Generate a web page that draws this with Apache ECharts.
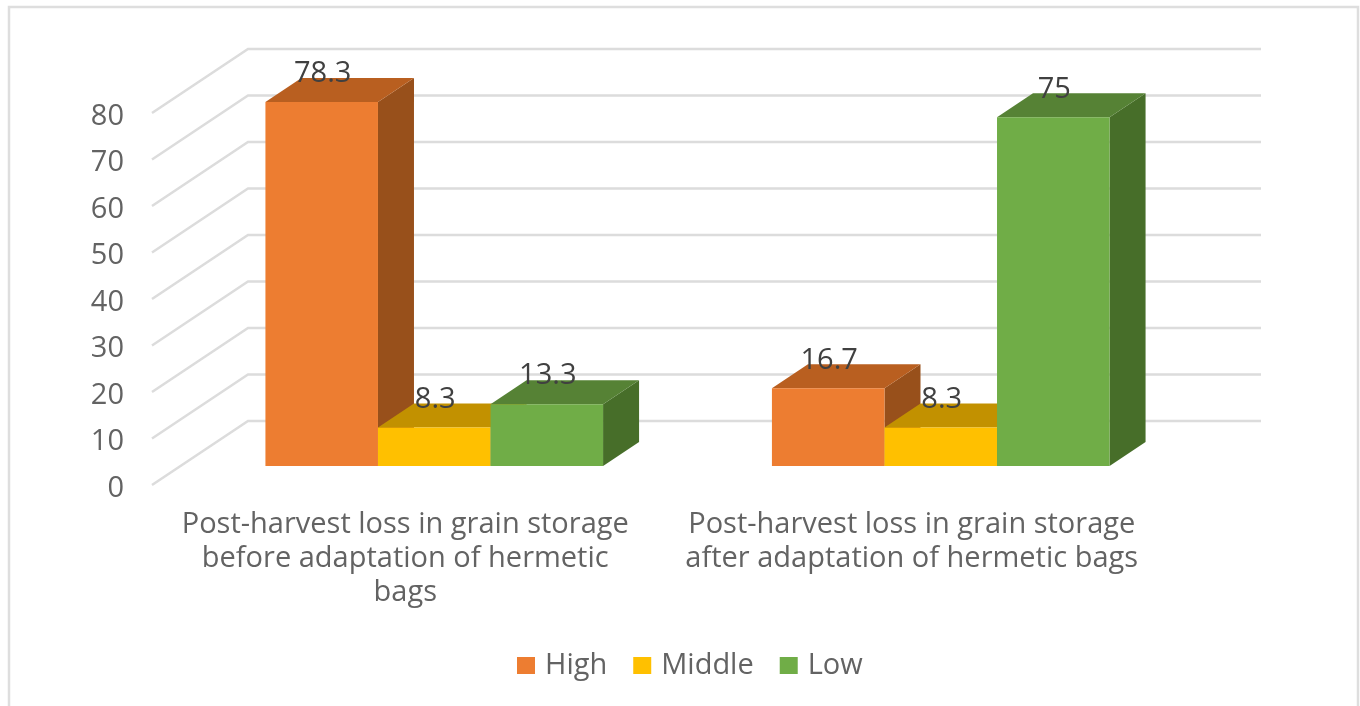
<!DOCTYPE html>
<html><head><meta charset="utf-8">
<style>html,body{margin:0;padding:0;background:#fff}#c{width:1360px;height:706px}</style>
<script src="https://cdn.jsdelivr.net/npm/echarts@6/dist/echarts.min.js"></script>
</head><body><div id="c"></div>
<script>
const categories = [
  'Post-harvest loss in grain storage\nbefore adaptation of hermetic\nbags',
  'Post-harvest loss in grain storage\nafter adaptation of hermetic bags'
];
const high = [78.3, 16.7];
const middle = [8.3, 8.3];
const low = [13.3, 75];
const yTicks = [0, 10, 20, 30, 40, 50, 60, 70, 80];

const FONT = 'Open Sans';
const DEPTH_X = 36, DEPTH_Y = 24;      // bar depth
const FLOOR_X = 29, FLOOR_Y = 19;      // bar front plane, relative to the axis plane
const WALL_X = 96, WALL_Y = 64;        // back wall, relative to the axis plane
const WALL_RIGHT = 1261;

function bar3d(idx, front, top, side) {
  return function (params, api) {
    const cat = api.value(0), val = api.value(1);
    const p = api.coord([cat, val]);
    const b = api.coord([cat, 0]);
    const bw = api.size([1, 0])[0] * 0.2222;
    const x0 = p[0] + FLOOR_X + (idx - 1.5) * bw;
    const x1 = x0 + bw;
    const yT = p[1] - FLOOR_Y, yB = b[1] - FLOOR_Y;
    return {
      type: 'group',
      children: [
        { type: 'polygon', shape: { points: [[x1, yT], [x1 + DEPTH_X, yT - DEPTH_Y], [x1 + DEPTH_X, yB - DEPTH_Y], [x1, yB]] }, style: { fill: side } },
        { type: 'polygon', shape: { points: [[x0, yT], [x0 + DEPTH_X, yT - DEPTH_Y], [x1 + DEPTH_X, yT - DEPTH_Y], [x1, yT]] }, style: { fill: top } },
        { type: 'rect', shape: { x: x0, y: yT, width: bw, height: yB - yT }, style: { fill: front } },
        { type: 'text', z2: 100, silent: true,
          style: { x: (x0 + x1) / 2 + 1, y: yT - 28, text: String(val), fill: '#404040',
                   font: '29px "' + FONT + '"', align: 'center', verticalAlign: 'middle' } }
      ]
    };
  };
}

function wallLines(params, api) {
  const v = api.value(0);
  const rect = params.coordSys;
  const y = api.coord([0, v])[1];
  return {
    type: 'polyline',
    shape: { points: [[rect.x, y], [rect.x + WALL_X, y - WALL_Y], [WALL_RIGHT, y - WALL_Y]] },
    style: { stroke: '#dcdcdc', lineWidth: 2.5, fill: 'none' },
    silent: true
  };
}

function barSeries(name, values, idx, front, top, side) {
  return {
    name, type: 'custom', coordinateSystem: 'cartesian2d', clip: false, z: 3,
    itemStyle: { color: front },
    renderItem: bar3d(idx, front, top, side),
    encode: { x: 0, y: 1 },
    data: values.map((v, i) => [i, v])
  };
}

const chart = echarts.init(document.getElementById('c'), null, { renderer: 'canvas' });
chart.setOption({
  animation: false,
  backgroundColor: '#ffffff',
  textStyle: { fontFamily: FONT },
  graphic: [{
    type: 'rect', z: -10, silent: true,
    shape: { x: 9, y: 7, width: 1349, height: 720 },
    style: { fill: '#ffffff', stroke: '#dedede', lineWidth: 2.5 }
  }],
  grid: { left: 152, right: 195, top: 113, bottom: 221, containLabel: false },
  xAxis: {
    type: 'category', data: categories,
    axisLine: { show: false }, axisTick: { show: false }, splitLine: { show: false },
    axisLabel: { color: '#636363', fontSize: 29, fontFamily: FONT, margin: 23, lineHeight: 34, interval: 0 }
  },
  yAxis: {
    type: 'value', min: 0, max: 80, interval: 10,
    axisLine: { show: false }, axisTick: { show: false }, splitLine: { show: false },
    axisLabel: { color: '#636363', fontSize: 29, fontFamily: FONT, margin: 28, verticalAlign: 'top', lineHeight: 7 }
  },
  legend: {
    left: 517, top: 651, padding: 0, itemWidth: 18, itemHeight: 17, itemGap: 26,
    icon: 'rect',
    data: ['High', 'Middle', 'Low'],
    textStyle: { color: '#636363', fontSize: 29, fontFamily: FONT, padding: [0, 0, 0, 5] },
    selectedMode: false
  },
  tooltip: { show: false },
  series: [
    { name: 'wall', type: 'custom', coordinateSystem: 'cartesian2d', clip: false, z: 1, silent: true,
      renderItem: wallLines, encode: { y: 0 }, data: yTicks.map(v => [v]) },
    barSeries('High', high, 0, '#ED7D31', '#B95F20', '#98501B'),
    barSeries('Middle', middle, 1, '#FFC000', '#C29100', '#A67C00'),
    barSeries('Low', low, 2, '#70AD47', '#568235', '#476E29')
  ]
});
</script></body></html>
